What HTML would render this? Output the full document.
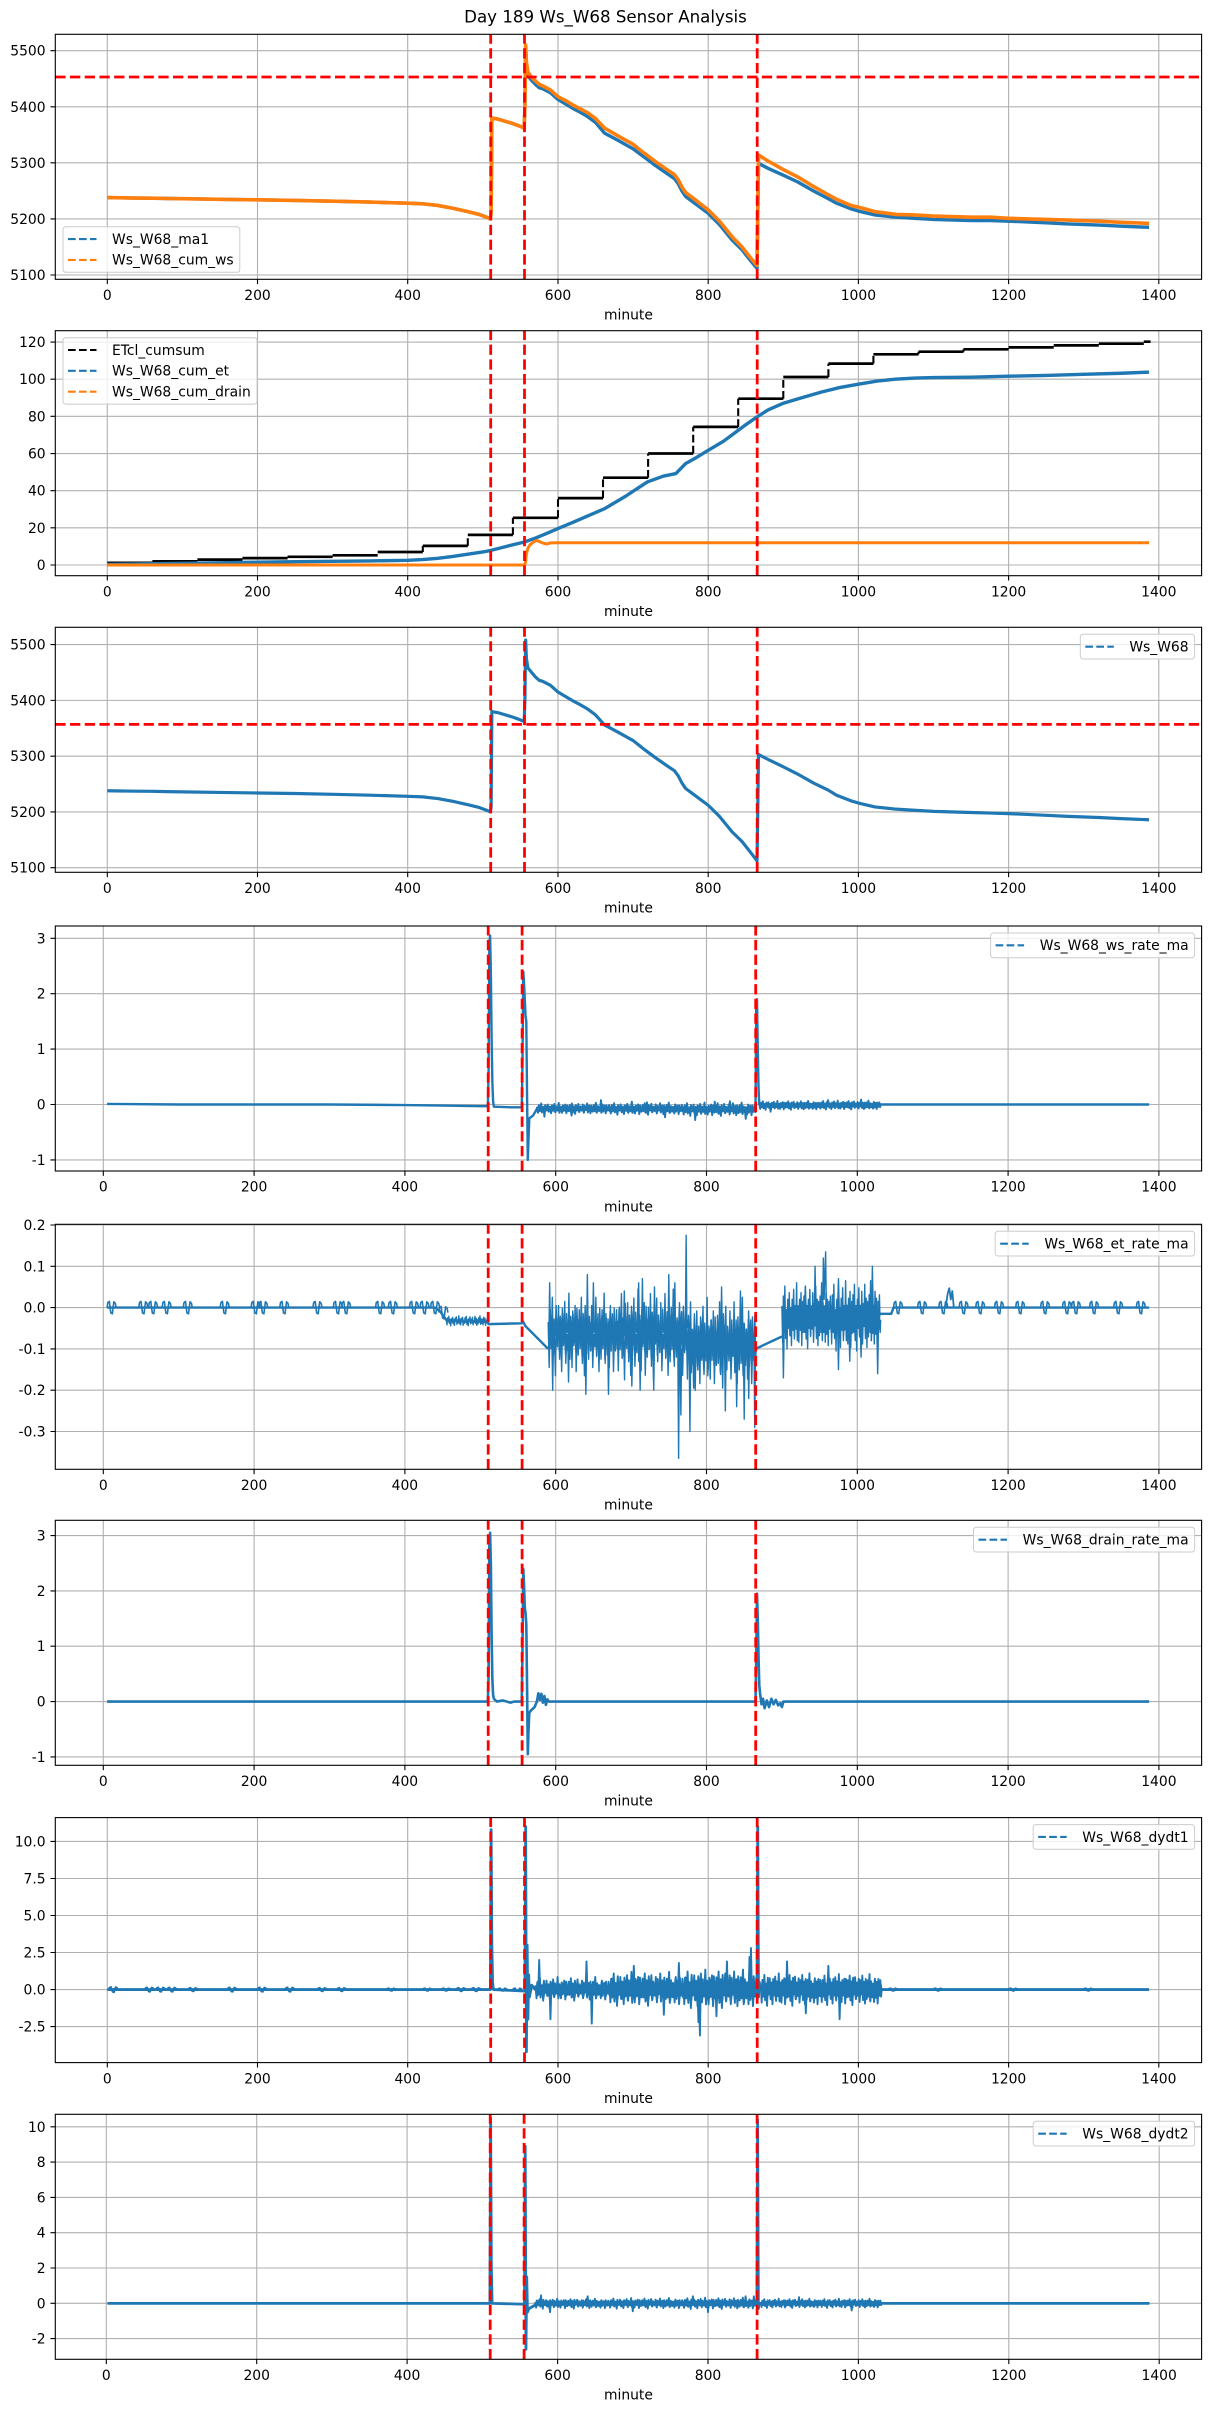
<!DOCTYPE html>
<html><head><meta charset="utf-8"><title>Day 189 Ws_W68 Sensor Analysis</title>
<style>
html,body{margin:0;padding:0;background:#fff}
svg{display:block}
text{font-family:"DejaVu Sans","Liberation Sans",sans-serif;font-size:13.89px;fill:#000}
.gr{stroke:#b0b0b0;stroke-width:1.1;fill:none}
.tk{stroke:#000;stroke-width:1.1;fill:none}
.fr{fill:none;stroke:#000;stroke-width:1.1}
.rd{stroke:#ff0000;stroke-width:2.78;stroke-dasharray:10.28 4.44;fill:none}
.lg{fill:#fff;fill-opacity:0.8;stroke:#cccccc;stroke-width:1}
.hd{stroke-width:2.08;stroke-dasharray:7.7 3.3;fill:none}
</style></head>
<body>
<svg width="1211" height="2411" viewBox="0 0 1211 2411" xmlns="http://www.w3.org/2000/svg">
<defs>
<clipPath id="c1"><rect x="55.3" y="34.3" width="1146.3" height="245"/></clipPath>
<clipPath id="c2"><rect x="55.3" y="330.7" width="1146.3" height="245"/></clipPath>
<clipPath id="c3"><rect x="55.3" y="627.3" width="1146.3" height="245"/></clipPath>
<clipPath id="c4"><rect x="55.3" y="926" width="1146.3" height="245"/></clipPath>
<clipPath id="c5"><rect x="55.3" y="1224.3" width="1146.3" height="245"/></clipPath>
<clipPath id="c6"><rect x="55.3" y="1520.3" width="1146.3" height="245"/></clipPath>
<clipPath id="c7"><rect x="55.3" y="1817.6" width="1146.3" height="245"/></clipPath>
<clipPath id="c8"><rect x="55.3" y="2114.3" width="1146.3" height="245"/></clipPath>
<path id="nz" vector-effect="non-scaling-stroke" d="M0,0.3L1.5,-0.8L3,0.6L4.5,-0.2L6,0.9L7.5,-0.5L9,0.1L10.5,-1L12,0.4L13.5,-0.3L15,0.7L16.5,-0.6L18,0.2L19.5,-0.9L21,0.5L22.5,-0.1L24,0.8L25.5,-0.7L27,0L28.5,-0.4L30,1L31.5,-0.6L33,0.3L34.5,-0.8L36,0.5L37.5,-0.2L39,0.7L40.5,-0.9L42,0.1L43.5,-0.5L45,0.6L46.5,-0.3L48,0.9L49.5,-0.7L51,0.2L52.5,-1L54,0.4L55.5,-0.1L57,0.8L58.5,-0.6L60,0.3L61.5,-0.4L63,0.7L64.5,-0.8L66,0L67.5,-0.3L69,0.9L70.5,-0.5L72,0.5L73.5,-0.9L75,0.2L76.5,-0.6L78,0.6L79.5,-0.2L81,1L82.5,-0.7L84,0.4L85.5,-0.5L87,0.3L88.5,-0.8L90,0.7L91.5,-0.1L93,0.5L94.5,-0.9L96,0.1L97.5,-0.4L99,0.6L100,0"/>
<path id="bz" vector-effect="non-scaling-stroke" d="M0,0L1,0.012L3,0.015L4,0L5,-0.013L7,-0.015L8,0L9,0.014L11,0.01L12,0"/>
</defs>
<rect x="0" y="0" width="1211" height="2411" fill="#fff"/>

<text x="605.5" y="22.3" text-anchor="middle" style="font-size:16.67px">Day 189 Ws_W68 Sensor Analysis</text>

<!-- ================= PANEL 1 ================= -->
<path class="gr" d="M107.3,34.3V279.3M257.5,34.3V279.3M407.7,34.3V279.3M558,34.3V279.3M708.2,34.3V279.3M858.4,34.3V279.3M1008.6,34.3V279.3M1158.8,34.3V279.3M55.3,275H1201.6M55.3,218.9H1201.6M55.3,162.8H1201.6M55.3,106.8H1201.6M55.3,50.7H1201.6"/>
<g clip-path="url(#c1)"><g transform="translate(107.3,3134.91) scale(0.7511,-0.56077)" fill="none" stroke-linejoin="round">
<path vector-effect="non-scaling-stroke" stroke="#1f77b4" stroke-width="3.4" d="M0,5238 L20,5237.6 L40,5237.2 L60,5237 L80,5236.4 L100,5236 L150,5235 L200,5234 L250,5233 L300,5231.6 L350,5230 L400,5228 L420,5227 L440,5224 L460,5219 L480,5213 L495,5208 L505,5203 L510,5200 L511,5210 L512,5380 L520,5378 L530,5374 L540,5370 L550,5365 L555,5362 L556,5400 L557,5505 L558,5470 L560,5455 L565,5447 L570,5440 L575,5434 L580,5432 L590,5425 L600,5413 L610,5405 L620,5397 L630,5390 L640,5382 L650,5372 L662,5353 L680,5340 L700,5325 L714,5311 L730,5295 L745,5281 L755,5272 L760,5263 L765,5250 L770,5240 L780,5230 L800,5210 L815,5190 L832,5162 L845,5145 L855,5128 L863,5115 L865,5112 L866,5200 L867,5299 L880,5290 L900,5278 L919,5266 L940,5250 L960,5236 L971,5228 L990,5218 L1000,5214 L1022,5207 L1050,5203 L1074,5201 L1100,5199 L1150,5197 L1176,5197 L1200,5196 L1250,5193 L1279,5191 L1320,5189 L1350,5187 L1387,5185"/>
<path vector-effect="non-scaling-stroke" stroke="#ff7f0e" stroke-width="3.6" d="M0,5238 L20,5237.6 L40,5237.2 L60,5237 L80,5236.4 L100,5236 L150,5235 L200,5234 L250,5233 L300,5231.6 L350,5230 L400,5228 L420,5227 L440,5224 L460,5219 L480,5213 L495,5208 L505,5203 L510,5200 L511,5210 L512,5380 L520,5378 L530,5374 L540,5370 L550,5365 L555,5362 L556,5400 L557,5510 L558,5480 L560,5462 L565,5452 L570,5446 L575,5440 L580,5437 L590,5430 L600,5418 L610,5411 L620,5403 L630,5396 L640,5389 L650,5379 L662,5362 L680,5348 L700,5333 L714,5318 L730,5302 L745,5288 L755,5279 L760,5270 L765,5257 L770,5247 L780,5237 L800,5216 L815,5196 L832,5168 L845,5150 L855,5133 L863,5120 L865,5117 L866,5210 L867,5314 L880,5303 L900,5288 L919,5275 L940,5258 L960,5243 L971,5235 L990,5224 L1000,5221 L1022,5213 L1050,5208 L1074,5207 L1100,5205 L1150,5203 L1176,5203 L1200,5201 L1250,5199 L1279,5198 L1320,5196 L1350,5194 L1387,5192"/>
</g></g>
<path class="rd" d="M490.7,279.3V34.3M524.5,279.3V34.3M757.2,279.3V34.3"/>
<path class="rd" d="M55.3,77H1201.6"/>
<rect class="fr" x="55.3" y="34.3" width="1146.3" height="245"/>
<path class="tk" d="M107.3,279.3v4.86M257.5,279.3v4.86M407.7,279.3v4.86M558,279.3v4.86M708.2,279.3v4.86M858.4,279.3v4.86M1008.6,279.3v4.86M1158.8,279.3v4.86M50.44,275h4.86M50.44,218.9h4.86M50.44,162.8h4.86M50.44,106.8h4.86M50.44,50.7h4.86"/>
<g text-anchor="middle"><text x="107.3" y="300">0</text><text x="257.5" y="300">200</text><text x="407.7" y="300">400</text><text x="558" y="300">600</text><text x="708.2" y="300">800</text><text x="858.4" y="300">1000</text><text x="1008.6" y="300">1200</text><text x="1158.8" y="300">1400</text><text x="628.45" y="319.6">minute</text></g>
<g text-anchor="end"><text x="45.6" y="280">5100</text><text x="45.6" y="223.9">5200</text><text x="45.6" y="167.8">5300</text><text x="45.6" y="111.8">5400</text><text x="45.6" y="55.7">5500</text></g>
<rect class="lg" x="63" y="226.75" width="176.8" height="45.55" rx="2.8"/>
<path class="hd" stroke="#1f77b4" d="M68,239.05H96.5"/>
<path class="hd" stroke="#ff7f0e" d="M68,259.9H96.5"/>
<text x="112" y="243.85">Ws_W68_ma1</text>
<text x="112" y="264.7">Ws_W68_cum_ws</text>

<!-- ================= PANEL 2 ================= -->
<path class="gr" d="M107.3,330.7V575.7M257.5,330.7V575.7M407.7,330.7V575.7M558,330.7V575.7M708.2,330.7V575.7M858.4,330.7V575.7M1008.6,330.7V575.7M1158.8,330.7V575.7M55.3,565H1201.6M55.3,527.84H1201.6M55.3,490.68H1201.6M55.3,453.52H1201.6M55.3,416.36H1201.6M55.3,379.2H1201.6M55.3,342.04H1201.6"/>
<g clip-path="url(#c2)">
<path fill="none" stroke="#000" stroke-width="2.7" d="M107.3,562.8 H152.4 M152.4,561.3 H197.4 M197.4,559.6 H242.5 M242.5,558.1 H287.6 M287.6,556.8 H332.6 M332.6,555.3 H377.7 M377.7,552.0 H422.8 M422.8,545.9 H467.8 M467.8,534.9 H512.9 M512.9,517.8 H558.0 M558.0,498.1 H603.0 M603.0,477.7 H648.1 M648.1,453.5 H693.2 M693.2,426.9 H738.2 M738.2,398.7 H783.3 M783.3,377.0 H828.4 M828.4,363.6 H873.4 M873.4,354.3 H918.5 M918.5,351.7 H963.5 M963.5,349.3 H1008.6 M1008.6,347.4 H1053.7 M1053.7,345.4 H1098.8 M1098.8,343.7 H1143.8 M1143.8,341.7 H1150.6"/>
<path fill="none" stroke="#000" stroke-width="2.08" stroke-dasharray="7.7 3.3" d="M422.8,552.0 V545.9 M467.8,545.9 V534.9 M512.9,534.9 V517.8 M558.0,517.8 V498.1 M603.0,498.1 V477.7 M648.1,477.7 V453.5 M693.2,453.5 V426.9 M738.2,426.9 V398.7 M783.3,398.7 V377.0 M828.4,377.0 V363.6 M873.4,363.6 V354.3 M918.5,354.3V351.7 M963.5,351.7V349.3"/>
<g transform="translate(107.3,565.0) scale(0.7511,-1.85803)" fill="none" stroke-linejoin="round">
<path vector-effect="non-scaling-stroke" stroke="#1f77b4" stroke-width="3.4" d="M0,0.3 L50,0.6 L100,0.9 L150,1.2 L200,1.5 L250,1.8 L300,2 L350,2.2 L400,2.5 L420,2.9 L440,3.6 L460,4.6 L480,5.8 L500,7 L510,7.8 L520,8.8 L540,10.9 L555,12.3 L570,14.5 L585,17 L600,19.6 L620,23 L640,26.5 L662,30.3 L690,37 L719,44.7 L740,47.8 L757,49.2 L770,54.6 L785,58 L800,61.7 L820,66.5 L837,71.6 L850,75.5 L865,79.7 L880,83.5 L899,86.9 L920,89.5 L951,93.1 L975,95.5 L1000,97.3 L1025,99 L1049,100 L1075,100.6 L1100,100.9 L1150,101.1 L1200,101.6 L1250,102 L1305,102.7 L1350,103.2 L1387,103.8"/>
<path vector-effect="non-scaling-stroke" stroke="#ff7f0e" stroke-width="3" d="M0,0 L556,0 L557,2 L558,6 L560,9 L563,11 L568,12.5 L572,13.2 L576,12.5 L580,11.8 L585,11.3 L590,11.9 L600,12 L1387,12"/>
</g></g>
<path class="rd" d="M490.7,575.7V330.7M524.5,575.7V330.7M757.2,575.7V330.7"/>
<rect class="fr" x="55.3" y="330.7" width="1146.3" height="245"/>
<path class="tk" d="M107.3,575.7v4.86M257.5,575.7v4.86M407.7,575.7v4.86M558,575.7v4.86M708.2,575.7v4.86M858.4,575.7v4.86M1008.6,575.7v4.86M1158.8,575.7v4.86M50.44,565h4.86M50.44,527.84h4.86M50.44,490.68h4.86M50.44,453.52h4.86M50.44,416.36h4.86M50.44,379.2h4.86M50.44,342.04h4.86"/>
<g text-anchor="middle"><text x="107.3" y="596.4">0</text><text x="257.5" y="596.4">200</text><text x="407.7" y="596.4">400</text><text x="558" y="596.4">600</text><text x="708.2" y="596.4">800</text><text x="858.4" y="596.4">1000</text><text x="1008.6" y="596.4">1200</text><text x="1158.8" y="596.4">1400</text><text x="628.45" y="616">minute</text></g>
<g text-anchor="end"><text x="45.6" y="570">0</text><text x="45.6" y="532.8">20</text><text x="45.6" y="495.7">40</text><text x="45.6" y="458.5">60</text><text x="45.6" y="421.4">80</text><text x="45.6" y="384.2">100</text><text x="45.6" y="347">120</text></g>
<rect class="lg" x="63" y="337.7" width="194" height="66.4" rx="2.8"/>
<path class="hd" stroke="#000" d="M68,350H96.5"/>
<path class="hd" stroke="#1f77b4" d="M68,370.85H96.5"/>
<path class="hd" stroke="#ff7f0e" d="M68,391.7H96.5"/>
<text x="112" y="354.8">ETcl_cumsum</text>
<text x="112" y="375.65">Ws_W68_cum_et</text>
<text x="112" y="396.5">Ws_W68_cum_drain</text>

<!-- ================= PANEL 3 ================= -->
<path class="gr" d="M107.3,627.3V872.3M257.5,627.3V872.3M407.7,627.3V872.3M558,627.3V872.3M708.2,627.3V872.3M858.4,627.3V872.3M1008.6,627.3V872.3M1158.8,627.3V872.3M55.3,867.73H1201.6M55.3,811.95H1201.6M55.3,756.16H1201.6M55.3,700.38H1201.6M55.3,644.6H1201.6"/>
<g clip-path="url(#c3)"><g transform="translate(107.3,3712.66) scale(0.7511,-0.55783)" fill="none" stroke-linejoin="round">
<path vector-effect="non-scaling-stroke" stroke="#1f77b4" stroke-width="3.2" d="M0,5238 L20,5237.6 L40,5237.2 L60,5237 L80,5236.4 L100,5236 L150,5235 L200,5234 L250,5233 L300,5231.6 L350,5230 L400,5228 L420,5227 L440,5224 L460,5219 L480,5213 L495,5208 L505,5203 L510,5200 L511,5210 L512,5380 L520,5378 L530,5374 L540,5370 L550,5365 L555,5362 L556,5400 L557,5508 L558,5475 L560,5458 L565,5450 L570,5442 L575,5436 L580,5434 L590,5427 L600,5415 L610,5407 L620,5399 L630,5392 L640,5384 L650,5374 L662,5356 L680,5343 L700,5328 L714,5313 L730,5297 L745,5283 L755,5274 L760,5265 L765,5252 L770,5242 L780,5232 L800,5212 L815,5192 L832,5164 L845,5147 L855,5130 L863,5116 L865,5112 L866,5200 L867,5303 L880,5294 L900,5281 L919,5268 L940,5252 L960,5239 L971,5230 L990,5220 L1000,5216 L1022,5209 L1050,5205 L1074,5203 L1100,5201 L1150,5199 L1176,5198 L1200,5197 L1250,5194 L1279,5192 L1320,5190 L1350,5188 L1387,5186"/>
</g></g>
<path class="rd" d="M490.7,872.3V627.3M524.5,872.3V627.3M757.2,872.3V627.3"/>
<path class="rd" d="M55.3,724.4H1201.6"/>
<rect class="fr" x="55.3" y="627.3" width="1146.3" height="245"/>
<path class="tk" d="M107.3,872.3v4.86M257.5,872.3v4.86M407.7,872.3v4.86M558,872.3v4.86M708.2,872.3v4.86M858.4,872.3v4.86M1008.6,872.3v4.86M1158.8,872.3v4.86M50.44,867.73h4.86M50.44,811.95h4.86M50.44,756.16h4.86M50.44,700.38h4.86M50.44,644.6h4.86"/>
<g text-anchor="middle"><text x="107.3" y="893">0</text><text x="257.5" y="893">200</text><text x="407.7" y="893">400</text><text x="558" y="893">600</text><text x="708.2" y="893">800</text><text x="858.4" y="893">1000</text><text x="1008.6" y="893">1200</text><text x="1158.8" y="893">1400</text><text x="628.45" y="912.6">minute</text></g>
<g text-anchor="end"><text x="45.6" y="872.7">5100</text><text x="45.6" y="817">5200</text><text x="45.6" y="761.2">5300</text><text x="45.6" y="705.4">5400</text><text x="45.6" y="649.6">5500</text></g>
<rect class="lg" x="1080.3" y="634.3" width="114.3" height="24.7" rx="2.8"/>
<path class="hd" stroke="#1f77b4" d="M1085.3,646.65H1113.8"/>
<text x="1188.6" y="651.45" text-anchor="end">Ws_W68</text>

<!-- ================= PANEL 4 ================= -->
<path class="gr" d="M103.3,926V1171M254.1,926V1171M404.9,926V1171M555.7,926V1171M706.5,926V1171M857.3,926V1171M1008.1,926V1171M1158.9,926V1171M55.3,1159.9H1201.6M55.3,1104.5H1201.6M55.3,1049.1H1201.6M55.3,993.7H1201.6M55.3,938.3H1201.6"/>
<g clip-path="url(#c4)"><g transform="translate(103.3,1104.5) scale(0.754,-55.405)" fill="none" stroke="#1f77b4" stroke-linejoin="round">
<path vector-effect="non-scaling-stroke" stroke-width="2.4" d="M5,0.01 L100,0 L200,0 L300,0 L400,-0.01 L450,-0.02 L500,-0.03 L510,-0.03 L511,0.6 L512,2.9 L513,3.05 L514,2.4 L515,1.2 L516,0.4 L517,0.05 L518,-0.04 L540,-0.05 L555,-0.05 L556,0.8 L557,2.4 L558,2.2 L560,1.6 L561,1.5 L562,0.2 L563,-1.0 L564,-0.6 L565,-0.25 L570,-0.2 L575,-0.08 L580,-0.05 L865,-0.08 L866,1.85 L867,1.9 L868,1.0 L869,0.3 L870,0.0 L1030,0 L1387,0"/>
<g stroke-width="1.9">
<use href="#nz" transform="translate(575,-0.07) scale(0.9667,0.1)"/>
<use href="#nz" transform="translate(671.67,-0.075) scale(0.9667,0.11)"/>
<use href="#nz" transform="translate(768.33,-0.085) scale(0.9667,0.12)"/>
<use href="#nz" transform="translate(576,-0.08) scale(0.9667,-0.07)"/>
<use href="#nz" transform="translate(672.67,-0.08) scale(0.9667,-0.07)"/>
<use href="#nz" transform="translate(769.33,-0.09) scale(0.9667,-0.08)"/>
<use href="#nz" transform="translate(870,-0.015) scale(0.8,0.08)"/>
<use href="#nz" transform="translate(950,-0.01) scale(0.8,0.08)"/>
<use href="#nz" transform="translate(871,-0.02) scale(0.8,-0.055)"/>
<use href="#nz" transform="translate(951,-0.015) scale(0.8,-0.055)"/>
<path vector-effect="non-scaling-stroke" d="M584,-0.08L585,-0.22L586,-0.08 M659,-0.07L660,0.08L661,-0.07 M784,-0.1L785,-0.28L786,-0.1 M851,-0.1L852,-0.26L853,-0.1 M720,-0.06L721,0.04L722,-0.06 M810,-0.08L811,0.05L812,-0.08 M884,-0.02L885,-0.13L886,-0.02 M1004,0L1005,0.09L1006,0 M744,-0.1L745,-0.23L746,-0.1 M830,-0.06L831,0.06L832,-0.06 M620,-0.1L621,-0.2L622,-0.1 M700,-0.06L701,0.05L702,-0.06 M960,0L961,0.08L962,0"/>
</g>
</g></g>
<path class="rd" d="M488.2,1171V926M522.1,1171V926M755.7,1171V926"/>
<rect class="fr" x="55.3" y="926" width="1146.3" height="245"/>
<path class="tk" d="M103.3,1171v4.86M254.1,1171v4.86M404.9,1171v4.86M555.7,1171v4.86M706.5,1171v4.86M857.3,1171v4.86M1008.1,1171v4.86M1158.9,1171v4.86M50.44,1159.9h4.86M50.44,1104.5h4.86M50.44,1049.1h4.86M50.44,993.7h4.86M50.44,938.3h4.86"/>
<g text-anchor="middle"><text x="103.3" y="1191.7">0</text><text x="254.1" y="1191.7">200</text><text x="404.9" y="1191.7">400</text><text x="555.7" y="1191.7">600</text><text x="706.5" y="1191.7">800</text><text x="857.3" y="1191.7">1000</text><text x="1008.1" y="1191.7">1200</text><text x="1158.9" y="1191.7">1400</text><text x="628.45" y="1211.3">minute</text></g>
<g text-anchor="end"><text x="45.6" y="1164.9">-1</text><text x="45.6" y="1109.5">0</text><text x="45.6" y="1054.1">1</text><text x="45.6" y="998.7">2</text><text x="45.6" y="943.3">3</text></g>
<rect class="lg" x="990.6" y="933" width="204" height="24.7" rx="2.8"/>
<path class="hd" stroke="#1f77b4" d="M995.6,945.35H1024.1"/>
<text x="1188.6" y="950.15" text-anchor="end">Ws_W68_ws_rate_ma</text>

<!-- ================= PANEL 5 ================= -->
<path class="gr" d="M103.3,1224.3V1469.3M254.1,1224.3V1469.3M404.9,1224.3V1469.3M555.7,1224.3V1469.3M706.5,1224.3V1469.3M857.3,1224.3V1469.3M1008.1,1224.3V1469.3M1158.9,1224.3V1469.3M55.3,1431.5H1201.6M55.3,1390.2H1201.6M55.3,1348.9H1201.6M55.3,1307.6H1201.6M55.3,1266.3H1201.6M55.3,1225H1201.6"/>
<g clip-path="url(#c5)"><g transform="translate(103.3,1307.6) scale(0.754,-413.01)" fill="none" stroke="#1f77b4" stroke-linejoin="round">
<path vector-effect="non-scaling-stroke" stroke-width="2.4" d="M5,0 L440,0 L447,-0.01 L455,-0.03 L510,-0.035 L511,-0.04 L555,-0.038 L557,-0.035 L560,-0.045 L590,-0.1 M865,-0.1 L900,-0.07 M1028,-0.015 L1045,-0.015 L1048,0 L1387,0"/>
<g stroke-width="1.6">
<use href="#bz" x="5"/><use href="#bz" x="47"/><use href="#bz" x="60"/><use href="#bz" x="78"/><use href="#bz" x="106"/><use href="#bz" x="155"/><use href="#bz" x="196"/><use href="#bz" x="206"/><use href="#bz" x="234"/><use href="#bz" x="278"/><use href="#bz" x="305"/><use href="#bz" x="316"/><use href="#bz" x="361"/><use href="#bz" x="378"/><use href="#bz" x="406"/><use href="#bz" x="420"/><use href="#bz" x="434"/>
<use href="#bz" transform="translate(445,-0.012)"/>
<use href="#bz" x="1048"/><use href="#bz" x="1080"/><use href="#bz" x="1108"/><use href="#bz" x="1135"/><use href="#bz" x="1157"/><use href="#bz" x="1182"/><use href="#bz" x="1210"/><use href="#bz" x="1243"/><use href="#bz" x="1272"/><use href="#bz" x="1284"/><use href="#bz" x="1308"/><use href="#bz" x="1340"/><use href="#bz" x="1370"/>
</g>
<path vector-effect="non-scaling-stroke" stroke-width="1.8" d="M1117,0 L1120,0.035 L1122,0.047 L1124,0.02 L1126,0.04 L1128,0"/>
<g stroke-width="1.4">
<use href="#nz" transform="translate(455,-0.032) scale(0.55,0.012)"/>
<use href="#nz" transform="translate(590,-0.065) scale(0.9167,0.1)"/>
<use href="#nz" transform="translate(681.67,-0.065) scale(0.9167,0.11)"/>
<use href="#nz" transform="translate(773.33,-0.085) scale(0.9167,0.11)"/>
<use href="#nz" transform="translate(591,-0.06) scale(0.9167,-0.065)"/>
<use href="#nz" transform="translate(682.67,-0.06) scale(0.9167,-0.07)"/>
<use href="#nz" transform="translate(774.33,-0.09) scale(0.9167,-0.075)"/>
<use href="#nz" transform="translate(900,-0.02) scale(0.65,0.08)"/>
<use href="#nz" transform="translate(965,-0.02) scale(0.65,0.085)"/>
<use href="#nz" transform="translate(901,-0.03) scale(0.65,-0.05)"/>
<use href="#nz" transform="translate(966,-0.03) scale(0.65,-0.05)"/>
<path vector-effect="non-scaling-stroke" d="M591,-0.07L592,0.06L593,-0.07 M595,-0.08L596,-0.2L597,-0.08 M616,-0.07L617,-0.18L618,-0.07 M641,-0.06L642,0.08L643,-0.06 M639,-0.08L640,-0.21L641,-0.08 M649,-0.06L650,0.06L651,-0.06 M669,-0.08L670,-0.21L671,-0.08 M709,-0.06L710,0.06L711,-0.06 M714,-0.06L715,0.07L716,-0.06 M711,-0.08L712,-0.2L713,-0.08 M729,-0.08L730,-0.2L731,-0.08 M749,-0.06L750,0.08L751,-0.06 M772,-0.05L773,0.175L774,-0.05 M762,-0.1L763,-0.365L764,-0.1 M765,-0.1L766,-0.26L767,-0.1 M777,-0.1L778,-0.3L779,-0.1 M784,-0.1L785,-0.2L786,-0.1 M819,-0.06L820,0.05L821,-0.06 M824,-0.1L825,-0.25L826,-0.1 M839,-0.1L840,-0.24L841,-0.1 M844,-0.06L845,0.04L846,-0.06 M849,-0.1L850,-0.27L851,-0.1 M863,-0.1L864,-0.29L865,-0.1 M855,-0.1L856,-0.22L857,-0.1 M690,-0.06L691,0.04L692,-0.06 M730,-0.06L731,0.05L732,-0.06 M901,-0.05L902,-0.17L903,-0.05 M943,-0.01L944,0.1L945,-0.01 M954,-0.01L955,0.12L956,0.02L958,0.135L959,-0.01 M974,-0.05L975,-0.15L976,-0.05 M989,-0.05L990,-0.13L991,-0.05 M1004,-0.05L1005,-0.12L1006,-0.05 M1019,0L1020,0.1L1021,0 M1026,-0.05L1027,-0.16L1028,-0.05 M974,0L975,0.07L976,0 M930,0L931,0.05L932,0 M757,-0.06L758,0.06L759,-0.06 M700,-0.08L701,-0.19L702,-0.08"/>
</g>
</g></g>
<path class="rd" d="M488.2,1469.3V1224.3M522.1,1469.3V1224.3M755.7,1469.3V1224.3"/>
<rect class="fr" x="55.3" y="1224.3" width="1146.3" height="245"/>
<path class="tk" d="M103.3,1469.3v4.86M254.1,1469.3v4.86M404.9,1469.3v4.86M555.7,1469.3v4.86M706.5,1469.3v4.86M857.3,1469.3v4.86M1008.1,1469.3v4.86M1158.9,1469.3v4.86M50.44,1431.5h4.86M50.44,1390.2h4.86M50.44,1348.9h4.86M50.44,1307.6h4.86M50.44,1266.3h4.86M50.44,1225h4.86"/>
<g text-anchor="middle"><text x="103.3" y="1490">0</text><text x="254.1" y="1490">200</text><text x="404.9" y="1490">400</text><text x="555.7" y="1490">600</text><text x="706.5" y="1490">800</text><text x="857.3" y="1490">1000</text><text x="1008.1" y="1490">1200</text><text x="1158.9" y="1490">1400</text><text x="628.45" y="1509.6">minute</text></g>
<g text-anchor="end"><text x="45.6" y="1436.5">-0.3</text><text x="45.6" y="1395.2">-0.2</text><text x="45.6" y="1353.9">-0.1</text><text x="45.6" y="1312.6">0.0</text><text x="45.6" y="1271.3">0.1</text><text x="45.6" y="1230">0.2</text></g>
<rect class="lg" x="995.2" y="1231.3" width="199.4" height="24.7" rx="2.8"/>
<path class="hd" stroke="#1f77b4" d="M1000.2,1243.65H1028.7"/>
<text x="1188.6" y="1248.45" text-anchor="end">Ws_W68_et_rate_ma</text>

<!-- ================= PANEL 6 ================= -->
<path class="gr" d="M103.3,1520.3V1765.3M254.1,1520.3V1765.3M404.9,1520.3V1765.3M555.7,1520.3V1765.3M706.5,1520.3V1765.3M857.3,1520.3V1765.3M1008.1,1520.3V1765.3M1158.9,1520.3V1765.3M55.3,1756.9H1201.6M55.3,1701.56H1201.6M55.3,1646.2H1201.6M55.3,1590.9H1201.6M55.3,1535.6H1201.6"/>
<g clip-path="url(#c6)"><g transform="translate(103.3,1701.56) scale(0.754,-55.33)" fill="none" stroke="#1f77b4" stroke-linejoin="round">
<path vector-effect="non-scaling-stroke" stroke-width="2.6" d="M5,0 L510,0 L511,0.5 L512,2.8 L513,3.05 L514,2.5 L515,1.2 L516,0.4 L517,0.12 L518,0.05 L522,0 L530,0.02 L535,0 L540,-0.02 L545,0 L555,0 L556,1.0 L557,2.4 L558,2.1 L559,1.7 L560,1.6 L561,1.4 L562,0.3 L563,-0.95 L564,-0.5 L565,-0.2 L568,-0.15 L572,-0.1 L575,0 L577,0.15 L579,0.03 L581,0.14 L583,-0.02 L585,0.1 L587,-0.06 L589,0.04 L591,0 L865,0 L866,0.8 L867,1.95 L868,1.5 L869,0.8 L870,0.3 L871,0.15 L873,-0.05 L875,0.05 L877,-0.12 L880,0.02 L883,-0.1 L886,0.05 L889,-0.05 L892,0.03 L895,-0.07 L898,-0.03 L900,-0.1 L902,0 L1387,0"/>
</g></g>
<path class="rd" d="M488.2,1765.3V1520.3M522.1,1765.3V1520.3M755.7,1765.3V1520.3"/>
<rect class="fr" x="55.3" y="1520.3" width="1146.3" height="245"/>
<path class="tk" d="M103.3,1765.3v4.86M254.1,1765.3v4.86M404.9,1765.3v4.86M555.7,1765.3v4.86M706.5,1765.3v4.86M857.3,1765.3v4.86M1008.1,1765.3v4.86M1158.9,1765.3v4.86M50.44,1756.9h4.86M50.44,1701.56h4.86M50.44,1646.2h4.86M50.44,1590.9h4.86M50.44,1535.6h4.86"/>
<g text-anchor="middle"><text x="103.3" y="1786">0</text><text x="254.1" y="1786">200</text><text x="404.9" y="1786">400</text><text x="555.7" y="1786">600</text><text x="706.5" y="1786">800</text><text x="857.3" y="1786">1000</text><text x="1008.1" y="1786">1200</text><text x="1158.9" y="1786">1400</text><text x="628.45" y="1805.6">minute</text></g>
<g text-anchor="end"><text x="45.6" y="1761.9">-1</text><text x="45.6" y="1706.6">0</text><text x="45.6" y="1651.2">1</text><text x="45.6" y="1595.9">2</text><text x="45.6" y="1540.6">3</text></g>
<rect class="lg" x="973.5" y="1527.3" width="221.1" height="24.7" rx="2.8"/>
<path class="hd" stroke="#1f77b4" d="M978.5,1539.65H1007"/>
<text x="1188.6" y="1544.45" text-anchor="end">Ws_W68_drain_rate_ma</text>

<!-- ================= PANEL 7 ================= -->
<path class="gr" d="M107.3,1817.6V2062.6M257.5,1817.6V2062.6M407.7,1817.6V2062.6M558,1817.6V2062.6M708.2,1817.6V2062.6M858.4,1817.6V2062.6M1008.6,1817.6V2062.6M1158.8,1817.6V2062.6M55.3,2026.6H1201.6M55.3,1989.6H1201.6M55.3,1952.5H1201.6M55.3,1915.5H1201.6M55.3,1878.5H1201.6M55.3,1841.4H1201.6"/>
<g clip-path="url(#c7)"><g transform="translate(107.3,1989.58) scale(0.7511,-14.813)" fill="none" stroke="#1f77b4" stroke-linejoin="round">
<path vector-effect="non-scaling-stroke" stroke-width="2.8" d="M0,0 L510,0 L511,10.8 L512,3 L513,0.5 L514,0 L556,-0.1 L557,11 L558,-4.2 L559,3 L560,-2 L561,1 L562,-0.5 L565,0.3 L570,0 L865,0 L866,11 L867,-0.5 L868,0.5 L870,0 L1387,0"/>
<g stroke-width="1.8">
<use href="#bz" transform="translate(2,0) scale(1,12)"/><use href="#bz" transform="translate(50,0) scale(1,10)"/><use href="#bz" transform="translate(65,0) scale(1,10)"/><use href="#bz" transform="translate(80,0) scale(1,10)"/><use href="#bz" transform="translate(108,0) scale(1,8)"/><use href="#bz" transform="translate(160,0) scale(1,10)"/><use href="#bz" transform="translate(200,0) scale(1,10)"/><use href="#bz" transform="translate(237,0) scale(1,10)"/><use href="#bz" transform="translate(280,0) scale(1,8)"/><use href="#bz" transform="translate(306,0) scale(1,8)"/><use href="#bz" transform="translate(372,0) scale(1,6)"/><use href="#bz" transform="translate(420,0) scale(1,6)"/><use href="#bz" transform="translate(445,0) scale(1,6)"/><use href="#bz" transform="translate(465,0) scale(1,8)"/><use href="#bz" transform="translate(485,0) scale(1,8)"/><use href="#bz" transform="translate(520,0) scale(1,6)"/><use href="#bz" transform="translate(540,0) scale(1,6)"/>
<use href="#bz" transform="translate(1040,0) scale(1,6)"/><use href="#bz" transform="translate(1100,0) scale(1,6)"/><use href="#bz" transform="translate(1200,0) scale(1,6)"/><use href="#bz" transform="translate(1300,0) scale(1,6)"/>
</g>
<g stroke-width="1.9">
<use href="#nz" transform="translate(570,0.05) scale(0.9833,0.8)"/>
<use href="#nz" transform="translate(668.33,0.05) scale(0.9833,1.15)"/>
<use href="#nz" transform="translate(766.67,0.05) scale(0.9833,1.3)"/>
<use href="#nz" transform="translate(571,0) scale(0.9833,-0.6)"/>
<use href="#nz" transform="translate(669.33,0) scale(0.9833,-0.9)"/>
<use href="#nz" transform="translate(767.67,0) scale(0.9833,-1.0)"/>
<use href="#nz" transform="translate(570.7,-0.05) scale(0.9833,0.45)"/>
<use href="#nz" transform="translate(669,-0.05) scale(0.9833,0.6)"/>
<use href="#nz" transform="translate(767.3,-0.05) scale(0.9833,0.65)"/>
<use href="#nz" transform="translate(870,0) scale(0.8,1.1)"/>
<use href="#nz" transform="translate(950,0) scale(0.8,1.05)"/>
<use href="#nz" transform="translate(871,0) scale(0.8,-0.8)"/>
<use href="#nz" transform="translate(951,0) scale(0.8,-0.8)"/>
<use href="#nz" transform="translate(870.6,0.05) scale(0.8,0.5)"/>
<use href="#nz" transform="translate(950.6,0.05) scale(0.8,0.5)"/>
<path vector-effect="non-scaling-stroke" d="M574,0.2L575,2L576,0.2 M589,-0.2L590,-2L591,-0.2 M637,0.2L638,1.9L639,0.2 M644,-0.2L645,-2.3L646,-0.2 M786,-0.2L787,-2.2L788,-0.4L789,-3.1L790,-0.2 M824,0.2L825,1.9L826,0.2 M854,0.2L855,2.2L856,0.5L857,2.8L858,0.2 M904,0.2L905,1.9L906,0.2 M959,0.2L960,1.6L961,0.2 M974,-0.2L975,-2L976,-0.2 M929,-0.2L930,-1.6L931,-0.2 M700,0.2L701,1.6L702,0.2 M740,-0.2L741,-1.7L742,-0.2 M810,-0.2L811,-1.8L812,-0.2 M760,0.2L761,1.8L762,0.2"/>
</g>
</g></g>
<path class="rd" d="M490.7,2062.6V1817.6M524.5,2062.6V1817.6M757.2,2062.6V1817.6"/>
<rect class="fr" x="55.3" y="1817.6" width="1146.3" height="245"/>
<path class="tk" d="M107.3,2062.6v4.86M257.5,2062.6v4.86M407.7,2062.6v4.86M558,2062.6v4.86M708.2,2062.6v4.86M858.4,2062.6v4.86M1008.6,2062.6v4.86M1158.8,2062.6v4.86M50.44,2026.6h4.86M50.44,1989.6h4.86M50.44,1952.5h4.86M50.44,1915.5h4.86M50.44,1878.5h4.86M50.44,1841.4h4.86"/>
<g text-anchor="middle"><text x="107.3" y="2083.3">0</text><text x="257.5" y="2083.3">200</text><text x="407.7" y="2083.3">400</text><text x="558" y="2083.3">600</text><text x="708.2" y="2083.3">800</text><text x="858.4" y="2083.3">1000</text><text x="1008.6" y="2083.3">1200</text><text x="1158.8" y="2083.3">1400</text><text x="628.45" y="2102.9">minute</text></g>
<g text-anchor="end"><text x="45.6" y="2031.6">-2.5</text><text x="45.6" y="1994.6">0.0</text><text x="45.6" y="1957.5">2.5</text><text x="45.6" y="1920.5">5.0</text><text x="45.6" y="1883.5">7.5</text><text x="45.6" y="1846.4">10.0</text></g>
<rect class="lg" x="1033.2" y="1824.6" width="161.4" height="24.7" rx="2.8"/>
<path class="hd" stroke="#1f77b4" d="M1038.2,1836.95H1066.7"/>
<text x="1188.6" y="1841.75" text-anchor="end">Ws_W68_dydt1</text>

<!-- ================= PANEL 8 ================= -->
<path class="gr" d="M106.3,2114.3V2359.3M256.7,2114.3V2359.3M407.1,2114.3V2359.3M557.6,2114.3V2359.3M708,2114.3V2359.3M858.4,2114.3V2359.3M1008.8,2114.3V2359.3M1159.2,2114.3V2359.3M55.3,2338.6H1201.6M55.3,2303.3H1201.6M55.3,2268H1201.6M55.3,2232.7H1201.6M55.3,2197.4H1201.6M55.3,2162.1H1201.6M55.3,2126.8H1201.6"/>
<g clip-path="url(#c8)"><g transform="translate(106.3,2303.34) scale(0.7521,-17.651)" fill="none" stroke="#1f77b4" stroke-linejoin="round">
<path vector-effect="non-scaling-stroke" stroke-width="2.8" d="M1.5,0 L510,0 L511,10.5 L512,2 L513,0 L556,-0.05 L557,8.9 L558,-2.6 L559,1.5 L560,-0.5 L562,-0.3 L570,-0.1 L575,0 L865,0 L866,10.4 L867,-0.3 L868,0 L1387,0"/>
<g stroke-width="1.9">
<use href="#nz" transform="translate(570,-0.02) scale(0.9833,0.28)"/>
<use href="#nz" transform="translate(668.33,0) scale(0.9833,0.3)"/>
<use href="#nz" transform="translate(766.67,0) scale(0.9833,0.32)"/>
<use href="#nz" transform="translate(571,0) scale(0.9833,-0.2)"/>
<use href="#nz" transform="translate(669.33,0) scale(0.9833,-0.2)"/>
<use href="#nz" transform="translate(767.67,0) scale(0.9833,-0.22)"/>
<use href="#nz" transform="translate(570.7,0) scale(0.9833,0.12)"/>
<use href="#nz" transform="translate(669,0) scale(0.9833,0.12)"/>
<use href="#nz" transform="translate(767.3,0) scale(0.9833,0.12)"/>
<use href="#nz" transform="translate(870,0) scale(0.8,0.26)"/>
<use href="#nz" transform="translate(950,0) scale(0.8,0.26)"/>
<use href="#nz" transform="translate(871,0) scale(0.8,-0.17)"/>
<use href="#nz" transform="translate(951,0) scale(0.8,-0.17)"/>
<path vector-effect="non-scaling-stroke" d="M577,0L578,0.45L579,0 M589,0L590,-0.5L591,0 M639,0L640,0.4L641,0 M699,0L700,-0.45L701,0 M779,0L780,0.4L781,0 M799,0L800,-0.5L801,0 M849,0L850,0.4L851,0 M920,0L921,0.35L922,0 M990,0L991,-0.4L992,0 M860,0L861,0.4L862,0"/>
</g>
</g></g>
<path class="rd" d="M490.2,2359.3V2114.3M524.1,2359.3V2114.3M757.1,2359.3V2114.3"/>
<rect class="fr" x="55.3" y="2114.3" width="1146.3" height="245"/>
<path class="tk" d="M106.3,2359.3v4.86M256.7,2359.3v4.86M407.1,2359.3v4.86M557.6,2359.3v4.86M708,2359.3v4.86M858.4,2359.3v4.86M1008.8,2359.3v4.86M1159.2,2359.3v4.86M50.44,2338.6h4.86M50.44,2303.3h4.86M50.44,2268h4.86M50.44,2232.7h4.86M50.44,2197.4h4.86M50.44,2162.1h4.86M50.44,2126.8h4.86"/>
<g text-anchor="middle"><text x="106.3" y="2380">0</text><text x="256.7" y="2380">200</text><text x="407.1" y="2380">400</text><text x="557.6" y="2380">600</text><text x="708" y="2380">800</text><text x="858.4" y="2380">1000</text><text x="1008.8" y="2380">1200</text><text x="1159.2" y="2380">1400</text><text x="628.45" y="2399.6">minute</text></g>
<g text-anchor="end"><text x="45.6" y="2343.6">-2</text><text x="45.6" y="2308.3">0</text><text x="45.6" y="2273">2</text><text x="45.6" y="2237.7">4</text><text x="45.6" y="2202.4">6</text><text x="45.6" y="2167.1">8</text><text x="45.6" y="2131.8">10</text></g>
<rect class="lg" x="1033.2" y="2121.3" width="161.4" height="24.7" rx="2.8"/>
<path class="hd" stroke="#1f77b4" d="M1038.2,2133.65H1066.7"/>
<text x="1188.6" y="2138.45" text-anchor="end">Ws_W68_dydt2</text>
</svg>
</body></html>
